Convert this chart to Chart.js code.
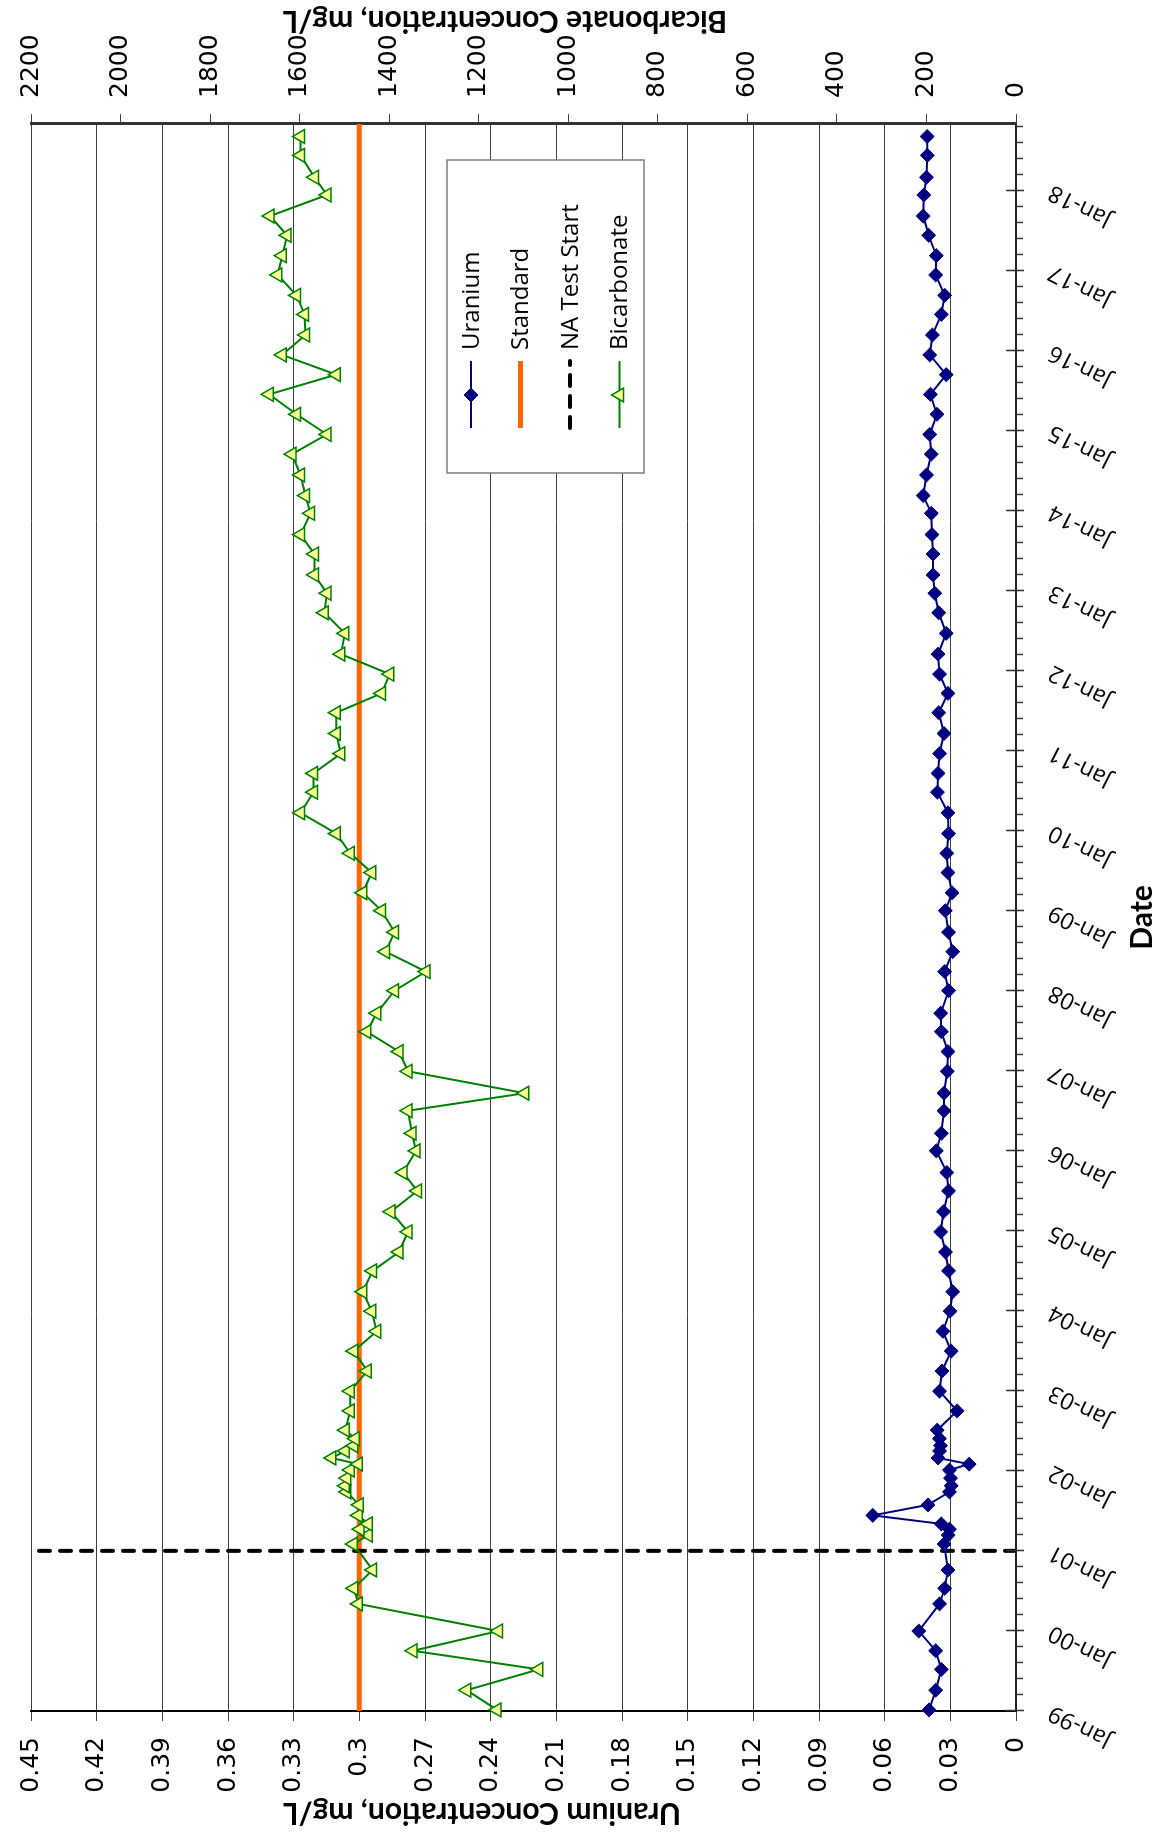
<!DOCTYPE html>
<html>
<head>
<meta charset="utf-8">
<title>Uranium and Bicarbonate</title>
<script src="https://cdn.jsdelivr.net/npm/chart.js@4.4.1/dist/chart.umd.min.js"></script>
<style>
  html, body { margin: 0; padding: 0; background: #fff; overflow: hidden; }
  #page { position: relative; width: 1160px; height: 1837px; overflow: hidden; background: #fff; }
  /* the chart is laid out landscape and turned a quarter turn to the left */
  #turn { position: absolute; left: 0; top: 0; width: 1837px; height: 1160px;
          transform-origin: 0 0; transform: translate(0px, 1837px) rotate(-90deg); }
</style>
</head>
<body>
<div id="page"><div id="turn"><canvas id="chart" width="1837" height="1160"></canvas></div></div>
<script>
// sample dates, shared by both series
const sampleDates = [
  '1999-01-06', '1999-04-06', '1999-07-10', '1999-10-03', '2000-01-01', '2000-05-04', '2000-07-14', '2000-10-06',
  '2001-02-01', '2001-03-14', '2001-04-10', '2001-05-04', '2001-06-12', '2001-07-30', '2001-09-27', '2001-10-25',
  '2001-11-29', '2002-01-05', '2002-02-01', '2002-03-01', '2002-04-02', '2002-04-26', '2002-05-28', '2002-07-06',
  '2002-10-02', '2002-12-31', '2003-04-02', '2003-07-02', '2003-09-30', '2003-12-31', '2004-03-29', '2004-07-02',
  '2004-09-26', '2004-12-27', '2005-03-29', '2005-07-02', '2005-09-24', '2006-01-01', '2006-03-22', '2006-07-03',
  '2006-09-21', '2006-12-30', '2007-03-30', '2007-06-29', '2007-09-21', '2008-01-02', '2008-03-29', '2008-06-28',
  '2008-09-25', '2009-01-01', '2009-03-24', '2009-06-24', '2009-09-20', '2009-12-19', '2010-03-24', '2010-06-26',
  '2010-09-20', '2010-12-19', '2011-03-21', '2011-06-24', '2011-09-20', '2011-12-17', '2012-03-17', '2012-06-20',
  '2012-09-22', '2012-12-20', '2013-03-14', '2013-06-17', '2013-09-14', '2013-12-20', '2014-03-11', '2014-06-13',
  '2014-09-16', '2014-12-15', '2015-03-17', '2015-06-16', '2015-09-14', '2015-12-13', '2016-03-13', '2016-06-15',
  '2016-09-10', '2016-12-12', '2017-03-10', '2017-06-11', '2017-09-07', '2017-12-12', '2018-03-03', '2018-06-11',
  '2018-09-05'
];

// mg/L
const uranium = [
  0.0397, 0.0367, 0.0341, 0.0367, 0.0444, 0.0349, 0.0326, 0.0311,
  0.0329, 0.0310, 0.0304, 0.0341, 0.0654, 0.0402, 0.0304, 0.0296,
  0.0299, 0.0304, 0.0214, 0.0356, 0.0349, 0.0345, 0.0350, 0.0360,
  0.0269, 0.0349, 0.0338, 0.0296, 0.0334, 0.0301, 0.0289, 0.0308,
  0.0322, 0.0344, 0.0331, 0.0308, 0.0316, 0.0364, 0.0341, 0.0329,
  0.0329, 0.0314, 0.0311, 0.0341, 0.0344, 0.0308, 0.0326, 0.0289,
  0.0308, 0.0323, 0.0292, 0.0311, 0.0316, 0.0308, 0.0311, 0.0359,
  0.0356, 0.0349, 0.0329, 0.0353, 0.0311, 0.0349, 0.0356, 0.0319,
  0.0353, 0.0371, 0.0379, 0.0379, 0.0384, 0.0387, 0.0424, 0.0409,
  0.0387, 0.0394, 0.0361, 0.0391, 0.0319, 0.0394, 0.0382, 0.0341,
  0.0326, 0.0367, 0.0364, 0.0399, 0.0424, 0.0421, 0.0409, 0.0405,
  0.0406
];

// mg/L
const bicarbonate = [
  1159, 1227, 1066, 1347, 1156, 1469, 1479, 1437,
  1480, 1447, 1465, 1447, 1469, 1467, 1495, 1498,
  1495, 1487, 1469, 1528, 1498, 1479, 1476, 1498,
  1487, 1487, 1449, 1479, 1428, 1439, 1459, 1437,
  1378, 1358, 1396, 1337, 1369, 1340, 1349, 1358,
  1097, 1358, 1378, 1450, 1428, 1388, 1318, 1408,
  1388, 1417, 1459, 1439, 1487, 1518, 1598, 1569,
  1569, 1508, 1518, 1518, 1417, 1399, 1508, 1499,
  1545, 1539, 1567, 1567, 1598, 1576, 1587, 1598,
  1617, 1539, 1607, 1668, 1518, 1639, 1587, 1589,
  1607, 1649, 1639, 1628, 1666, 1539, 1567, 1598,
  1598
];

const uraniumStandard = 0.3;
const naTestStart = '2001-01-01';
const dateMin = '1999-01-01';
const dateMax = '2018-11-01';
const dateTickYears = [1999, 2000, 2001, 2002, 2003, 2004, 2005, 2006, 2007, 2008,
                       2009, 2010, 2011, 2012, 2013, 2014, 2015, 2016, 2017, 2018];
const uraniumTicks = [0, 0.03, 0.06, 0.09, 0.12, 0.15, 0.18, 0.21, 0.24, 0.27, 0.3, 0.33, 0.36, 0.39, 0.42, 0.45];
const bicarbonateTicks = [0, 200, 400, 600, 800, 1000, 1200, 1400, 1600, 1800, 2000, 2200];

// dates -> days after dateMin, so the x axis is a plain linear scale
const DAY = 86400000;
const t0 = Date.parse(dateMin);
const toDay = s => (Date.parse(s) - t0) / DAY;
const yearTickDays = dateTickYears.map(y => toDay(y + '-01-01'));

const uraniumPoints = sampleDates.map((d, i) => ({ x: toDay(d), y: uranium[i] }));
const bicarbonatePoints = sampleDates.map((d, i) => ({ x: toDay(d), y: bicarbonate[i] }));

const tickFont = { family: 'DejaVu Sans', size: 25 };
const titleFont = "bold 30px Lato";

function drawMarker(ctx, style, x, y, r) {
  ctx.beginPath();
  if (style === 'rectRot') {
    ctx.moveTo(x, y - r); ctx.lineTo(x + r, y); ctx.lineTo(x, y + r); ctx.lineTo(x - r, y);
  } else if (style === 'triangle') {
    for (let k = 0; k < 3; k++) {
      const a = k * 2 * Math.PI / 3;
      const px = x + Math.sin(a) * r, py = y - Math.cos(a) * r;
      if (k === 0) ctx.moveTo(px, py); else ctx.lineTo(px, py);
    }
  }
  ctx.closePath();
}

// tick marks on the date axis, axis titles and the boxed legend
const extras = {
  id: 'extras',
  afterDraw(chart) {
    const ctx = chart.ctx;
    const area = chart.chartArea;
    const xs = chart.scales.x;

    ctx.save();
    ctx.lineWidth = 1.5;
    ctx.strokeStyle = '#333';
    yearTickDays.forEach((d, i) => {
      const px = Math.round(xs.getPixelForValue(d)) + 0.5;
      ctx.beginPath(); ctx.moveTo(px, area.bottom - 10); ctx.lineTo(px, area.bottom + 8); ctx.stroke();
      for (let m = 1; m < 5; m++) {
        const md = d + m * 73;
        if (md > xs.max) break;
        const mx = Math.round(xs.getPixelForValue(md)) + 0.5;
        ctx.beginPath(); ctx.moveTo(mx, area.bottom); ctx.lineTo(mx, area.bottom + 7); ctx.stroke();
      }
    });

    // axis titles
    ctx.fillStyle = '#000';
    ctx.font = titleFont;
    ctx.textAlign = 'center';
    ctx.textBaseline = 'middle';
    ctx.save(); ctx.translate(24, 482); ctx.rotate(-Math.PI / 2);
    ctx.fillText('Uranium Concentration, mg/L', 0, 0); ctx.restore();
    ctx.save(); ctx.translate(1816, 505); ctx.rotate(-Math.PI / 2);
    ctx.fillText('Bicarbonate Concentration, mg/L', 0, 0); ctx.restore();
    ctx.fillText('Date', (area.left + area.right) / 2, 1142);

    // legend
    const box = { left: 1364, top: 447, width: 313, height: 197 };
    ctx.fillStyle = '#fff';
    ctx.fillRect(box.left, box.top, box.width, box.height);
    ctx.strokeStyle = '#7f7f7f';
    ctx.lineWidth = 1.5;
    ctx.strokeRect(box.left, box.top, box.width, box.height);
    ctx.font = '24px "Open Sans"';
    ctx.textAlign = 'left';
    chart.data.datasets.forEach((ds, i) => {
      const y = box.top + 24 + i * 49.5;
      ctx.save();
      ctx.strokeStyle = ds.borderColor;
      ctx.lineWidth = ds.borderWidth;
      ctx.lineCap = ds.borderCapStyle || 'butt';
      ctx.setLineDash(ds.borderDash || []);
      ctx.beginPath(); ctx.moveTo(1409, y); ctx.lineTo(1476, y); ctx.stroke();
      ctx.restore();
      if (ds.pointRadius > 0) {
        drawMarker(ctx, ds.pointStyle, 1442, y, ds.pointRadius);
        ctx.fillStyle = ds.backgroundColor;
        ctx.fill();
        ctx.lineWidth = ds.pointBorderWidth;
        ctx.strokeStyle = ds.pointBorderColor || ds.borderColor;
        ctx.stroke();
      }
      ctx.fillStyle = '#000';
      ctx.fillText(ds.label, 1487, y + 1);
    });
    ctx.restore();
  }
};

new Chart(document.getElementById('chart').getContext('2d'), {
  type: 'line',
  data: {
    datasets: [
      {
        label: 'Uranium',
        data: uraniumPoints,
        yAxisID: 'y',
        borderColor: '#000080',
        backgroundColor: '#000080',
        pointBorderColor: '#000080',
        borderWidth: 2,
        pointStyle: 'rectRot',
        pointRadius: 7,
        pointBorderWidth: 1,
        clip: false,
        order: 2
      },
      {
        label: 'Standard',
        data: [{ x: 0, y: uraniumStandard }, { x: toDay(dateMax), y: uraniumStandard }],
        yAxisID: 'y',
        borderColor: '#FF6600',
        backgroundColor: '#FF6600',
        borderWidth: 5,
        pointRadius: 0,
        order: 4
      },
      {
        label: 'NA Test Start',
        data: [{ x: toDay(naTestStart), y: 0 }, { x: toDay(naTestStart), y: 0.45 }],
        yAxisID: 'y',
        borderColor: '#000',
        backgroundColor: '#000',
        borderWidth: 4,
        borderDash: [11, 10],
        borderCapStyle: 'round',
        pointRadius: 0,
        order: 3
      },
      {
        label: 'Bicarbonate',
        data: bicarbonatePoints,
        yAxisID: 'y2',
        borderColor: '#008000',
        backgroundColor: '#FFFF99',
        pointBorderColor: '#008000',
        borderWidth: 2,
        pointStyle: 'triangle',
        pointRadius: 8,
        pointBorderWidth: 1.5,
        clip: false,
        order: 1
      }
    ]
  },
  options: {
    responsive: false,
    animation: false,
    devicePixelRatio: 1,
    layout: { padding: { top: 21, left: 0, right: 0, bottom: 0 } },
    plugins: { legend: { display: false }, tooltip: { enabled: false } },
    scales: {
      x: {
        type: 'linear',
        position: 'bottom',
        min: 0,
        max: toDay(dateMax),
        afterBuildTicks: s => { s.ticks = yearTickDays.map(v => ({ value: v })); },
        afterFit: s => { s.height = 144; },
        ticks: {
          autoSkip: false,
          minRotation: 63,
          maxRotation: 63,
          padding: 28,
          color: '#000',
          font: { family: 'Open Sans', size: 23 },
          callback: v => 'Jan-' + String(new Date(t0 + v * DAY).getUTCFullYear()).slice(2)
        },
        grid: { drawOnChartArea: false, drawTicks: false },
        border: { color: '#222', width: 2 }
      },
      y: {
        position: 'left',
        min: 0,
        max: 0.45,
        afterBuildTicks: s => { s.ticks = uraniumTicks.map(v => ({ value: v })); },
        afterFit: s => { s.width = 126; },
        ticks: {
          padding: 16,
          color: '#000',
          font: tickFont,
          callback: v => String(+v.toFixed(2))
        },
        grid: { color: '#404040', lineWidth: 1, tickLength: 10 },
        border: { color: '#000', width: 2 }
      },
      y2: {
        position: 'right',
        min: 0,
        max: 2200,
        afterBuildTicks: s => { s.ticks = bicarbonateTicks.map(v => ({ value: v })); },
        afterFit: s => { s.width = 124; },
        ticks: { padding: 16, color: '#000', font: tickFont, callback: v => String(v) },
        grid: { drawOnChartArea: false, color: '#404040', tickLength: 10 },
        border: { color: '#333', width: 3 }
      }
    }
  },
  plugins: [extras]
});
</script>
</body>
</html>
